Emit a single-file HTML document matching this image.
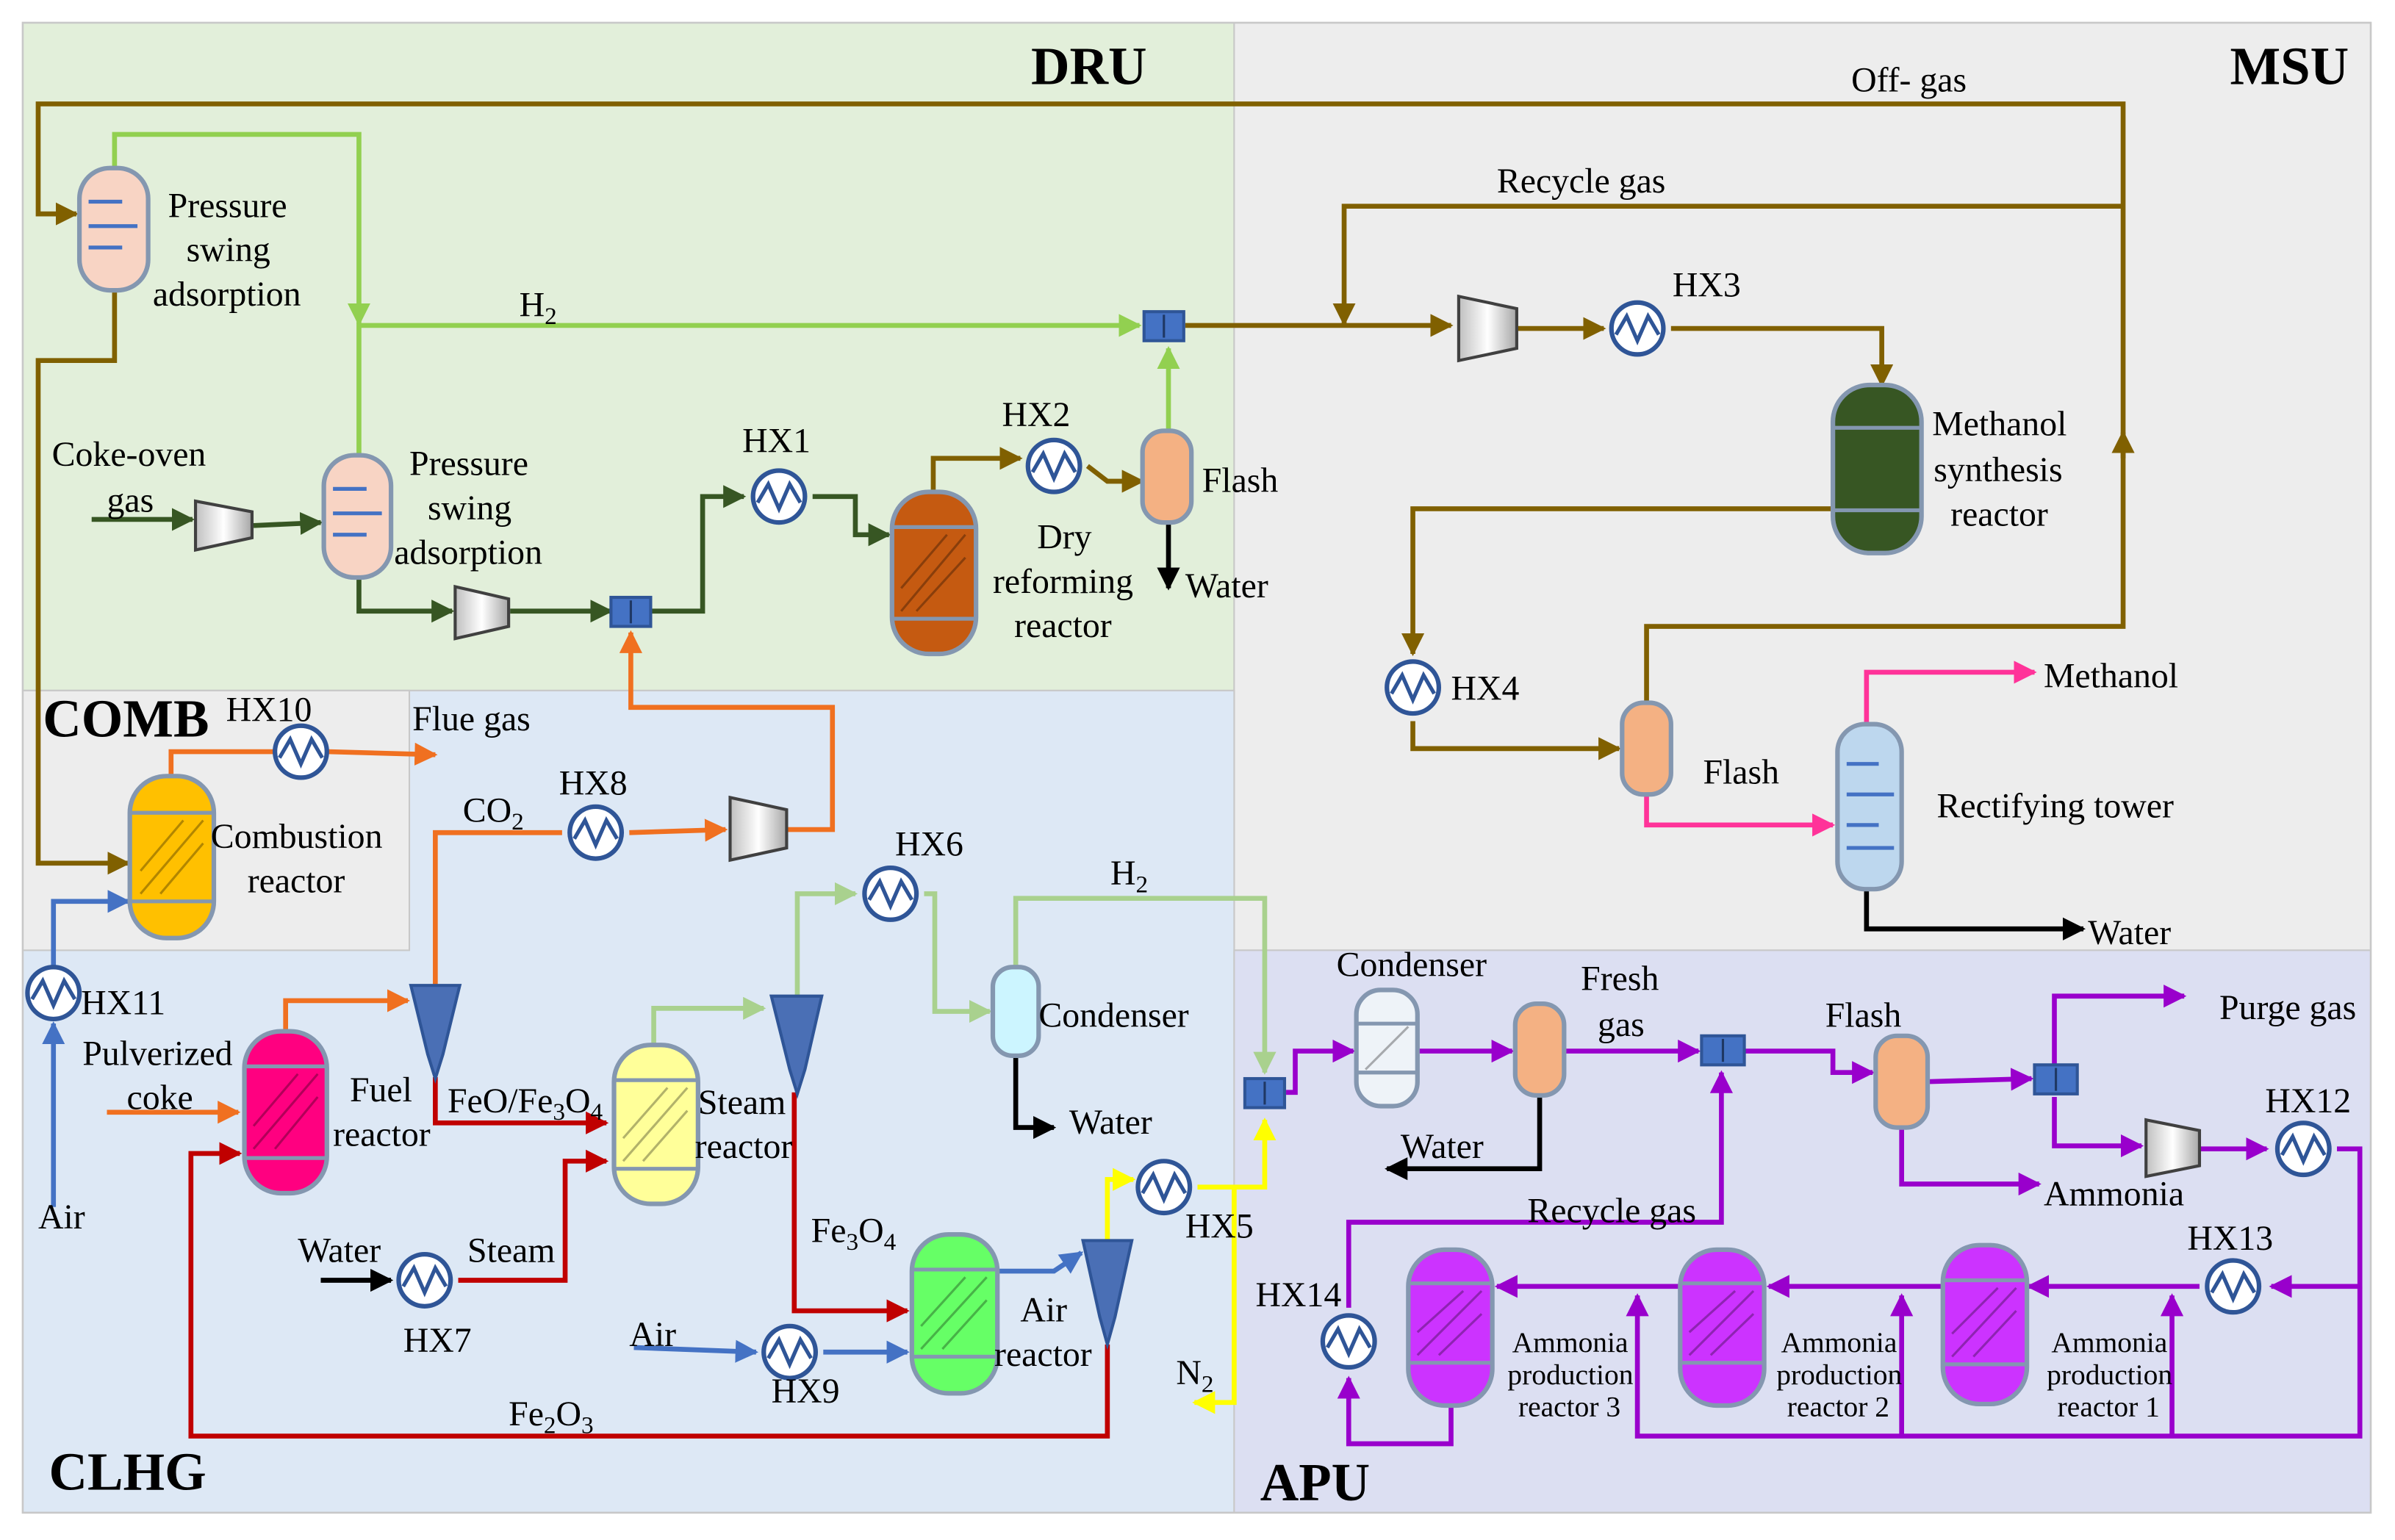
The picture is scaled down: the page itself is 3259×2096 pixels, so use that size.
<!DOCTYPE html>
<html><head><meta charset="utf-8"><style>
html,body{margin:0;padding:0;background:#fff;}
svg{display:block;}
text{font-family:"Liberation Serif",serif;font-size:23px;fill:#000;}
.t{font-weight:bold;font-size:35px;}
.s{font-size:19px;}
</style></head><body>
<svg width="3259" height="2096" viewBox="0 0 1568 1008" preserveAspectRatio="none" xmlns="http://www.w3.org/2000/svg">
<defs>
<marker id="mbr" viewBox="0 0 10 10" refX="9" refY="5" markerWidth="15" markerHeight="15" orient="auto" markerUnits="userSpaceOnUse"><path d="M0,0 L10,5 L0,10 z" fill="#806000"/></marker>
<marker id="mlg" viewBox="0 0 10 10" refX="9" refY="5" markerWidth="15" markerHeight="15" orient="auto" markerUnits="userSpaceOnUse"><path d="M0,0 L10,5 L0,10 z" fill="#92d050"/></marker>
<marker id="mlg2" viewBox="0 0 10 10" refX="9" refY="5" markerWidth="15" markerHeight="15" orient="auto" markerUnits="userSpaceOnUse"><path d="M0,0 L10,5 L0,10 z" fill="#a9d18e"/></marker>
<marker id="mdg" viewBox="0 0 10 10" refX="9" refY="5" markerWidth="15" markerHeight="15" orient="auto" markerUnits="userSpaceOnUse"><path d="M0,0 L10,5 L0,10 z" fill="#375623"/></marker>
<marker id="mor" viewBox="0 0 10 10" refX="9" refY="5" markerWidth="15" markerHeight="15" orient="auto" markerUnits="userSpaceOnUse"><path d="M0,0 L10,5 L0,10 z" fill="#f07020"/></marker>
<marker id="mbl" viewBox="0 0 10 10" refX="9" refY="5" markerWidth="15" markerHeight="15" orient="auto" markerUnits="userSpaceOnUse"><path d="M0,0 L10,5 L0,10 z" fill="#4472c4"/></marker>
<marker id="mrd" viewBox="0 0 10 10" refX="9" refY="5" markerWidth="15" markerHeight="15" orient="auto" markerUnits="userSpaceOnUse"><path d="M0,0 L10,5 L0,10 z" fill="#c00000"/></marker>
<marker id="mye" viewBox="0 0 10 10" refX="9" refY="5" markerWidth="15" markerHeight="15" orient="auto" markerUnits="userSpaceOnUse"><path d="M0,0 L10,5 L0,10 z" fill="#ffff00"/></marker>
<marker id="mpk" viewBox="0 0 10 10" refX="9" refY="5" markerWidth="15" markerHeight="15" orient="auto" markerUnits="userSpaceOnUse"><path d="M0,0 L10,5 L0,10 z" fill="#ff3399"/></marker>
<marker id="mbk" viewBox="0 0 10 10" refX="9" refY="5" markerWidth="15" markerHeight="15" orient="auto" markerUnits="userSpaceOnUse"><path d="M0,0 L10,5 L0,10 z" fill="#000"/></marker>
<marker id="mpu" viewBox="0 0 10 10" refX="9" refY="5" markerWidth="15" markerHeight="15" orient="auto" markerUnits="userSpaceOnUse"><path d="M0,0 L10,5 L0,10 z" fill="#9900cc"/></marker>
<symbol id="hx" viewBox="-20 -20 40 40" overflow="visible"><circle r="17" fill="#fff" stroke="#2f5597" stroke-width="3"/><path d="M-14,4 L-7,-8 L0,8 L7,-8 L14,4" fill="none" stroke="#2f5597" stroke-width="2.5"/></symbol>
<linearGradient id="cg" x1="0" x2="1"><stop offset="0" stop-color="#bfbfbf"/><stop offset=".5" stop-color="#fff"/><stop offset="1" stop-color="#a6a6a6"/></linearGradient>
</defs>
<rect x="15" y="15" width="1537" height="975" fill="#fff" stroke="#c8c8c8" stroke-width="1.5"/>
<rect x="15" y="15" width="793" height="437" fill="#e2efda" stroke="#c8c8c8"/>
<rect x="808" y="15" width="744" height="607" fill="#ededed" stroke="#c8c8c8"/>
<rect x="15" y="452" width="793" height="538" fill="#dde8f5" stroke="#c8c8c8"/>
<rect x="15" y="452" width="253" height="170" fill="#ededed" stroke="#c8c8c8"/>
<rect x="808" y="622" width="744" height="368" fill="#dcdff2" stroke="#c8c8c8"/>
<text class="t" x="675" y="55">DRU</text>
<text class="t" x="1460" y="55">MSU</text>
<text class="t" x="28" y="482">COMB</text>
<text class="t" x="32" y="975">CLHG</text>
<text class="t" x="825" y="982">APU</text>

<g fill="none" stroke-width="3.2">
<g stroke="#806000" marker-end="url(#mbr)">
<polyline points="1078,462 1078,410 1390,410 1390,68 25,68 25,140 50,140"/>
<polyline points="1390,300 1390,283"/>
<polyline points="1390,135 880,135 880,212"/>
<polyline points="75,188 75,236 25,236 25,565 84,565"/>
<polyline points="776,213 950,213"/>
<polyline points="993,215 1050,215"/>
<polyline points="1094,215 1232,215 1232,252"/>
<polyline points="1200,333 925,333 925,428"/>
<polyline points="925,472 925,490 1060,490"/>
<polyline points="611,322 611,300 668,300"/>
<polyline points="712,305 725,315 748,315"/>
</g>
<g stroke="#92d050" marker-end="url(#mlg)">
<polyline points="75,110 75,88 235,88 235,212"/>
<polyline points="235,300 235,213 746,213"/>
<polyline points="765,285 765,228"/>
</g>
<g stroke="#a9d18e" marker-end="url(#mlg2)">
<polyline points="428,685 428,660 500,660"/>
<polyline points="522,655 522,585 560,585"/>
<polyline points="605,585 612,585 612,662 648,662"/>
<polyline points="665,635 665,588 828,588 828,702"/>
</g>
<g stroke="#375623" marker-end="url(#mdg)">
<polyline points="60,340 126,340"/>
<polyline points="166,344 210,342"/>
<polyline points="235,378 235,400 296,400"/>
<polyline points="334,400 400,400"/>
<polyline points="427,400 460,400 460,325 487,325"/>
<polyline points="532,325 560,325 560,350 582,350"/>
</g>
<g stroke="#f07020" marker-end="url(#mor)">
<polyline points="515,543 545,543 545,463 413,463 413,414"/>
<polyline points="285,650 285,545 368,545" marker-end="none"/>
<polyline points="412,545 475,543"/>
<polyline points="187,675 187,655 267,655"/>
<polyline points="112,508 112,492 180,492" marker-end="none"/>
<polyline points="215,492 285,494"/>
<polyline points="70,728 156,728"/>
</g>
<g stroke="#4472c4" marker-end="url(#mbl)">
<polyline points="35,790 35,670"/>
<polyline points="35,632 35,590 84,590"/>
<polyline points="415,882 495,885"/>
<polyline points="539,885 594,885"/>
<polyline points="652,832 690,832 708,820"/>
</g>
<g stroke="#c00000" marker-end="url(#mrd)">
<polyline points="285,705 285,735 397,735"/>
<polyline points="725,880 725,940 125,940 125,755 157,755"/>
<polyline points="300,838 370,838 370,760 397,760"/>
<polyline points="520,715 520,858 594,858"/>
</g>
<g stroke="#ffff00" marker-end="url(#mye)">
<polyline points="725,815 725,772 742,772"/>
<polyline points="784,777 828,777 828,733"/>
<polyline points="808,777 808,918 782,918"/>
</g>
<g stroke="#ff3399" marker-end="url(#mpk)">
<polyline points="1078,520 1078,540 1200,540"/>
<polyline points="1222,475 1222,440 1332,440"/>
</g>
<g stroke="#000" marker-end="url(#mbk)">
<polyline points="765,342 765,385"/>
<polyline points="1222,580 1222,608 1364,608"/>
<polyline points="665,690 665,738 690,738"/>
<polyline points="210,838 256,838"/>
<polyline points="1008,715 1008,765 908,765"/>
</g>
<g stroke="#9900cc" marker-end="url(#mpu)">
<polyline points="842,715 848,715 848,688 886,688"/>
<polyline points="928,688 990,688"/>
<polyline points="1024,688 1112,688"/>
<polyline points="1142,688 1200,688 1200,702 1226,702"/>
<polyline points="1262,708 1330,706"/>
<polyline points="1245,737 1245,775 1335,775"/>
<polyline points="1345,697 1345,652 1430,652"/>
<polyline points="1345,718 1345,750 1402,750"/>
<polyline points="1440,752 1484,752"/>
<polyline points="1530,752 1545,752 1545,842 1487,842"/>
<polyline points="1440,842 1328,842"/>
<polyline points="1272,842 1158,842"/>
<polyline points="1100,842 980,842"/>
<polyline points="950,918 950,945 883,945 883,902"/>
<polyline points="883,856 883,800 1127,800 1127,702"/>
<polyline points="1545,842 1545,940 1072,940 1072,848"/>
<polyline points="1245,940 1245,848"/>
<polyline points="1422,940 1422,848"/>
</g>
</g>

<use href="#hx" x="490" y="305" width="40" height="40"/>
<use href="#hx" x="670" y="285" width="40" height="40"/>
<use href="#hx" x="1052" y="195" width="40" height="40"/>
<use href="#hx" x="905" y="430" width="40" height="40"/>
<use href="#hx" x="177" y="472" width="40" height="40"/>
<use href="#hx" x="370" y="525" width="40" height="40"/>
<use href="#hx" x="563" y="565" width="40" height="40"/>
<use href="#hx" x="15" y="630" width="40" height="40"/>
<use href="#hx" x="258" y="818" width="40" height="40"/>
<use href="#hx" x="497" y="865" width="40" height="40"/>
<use href="#hx" x="742" y="757" width="40" height="40"/>
<use href="#hx" x="1488" y="732" width="40" height="40"/>
<use href="#hx" x="1442" y="822" width="40" height="40"/>
<use href="#hx" x="863" y="858" width="40" height="40"/>

<g fill="url(#cg)" stroke="#404040" stroke-width="2">
<polygon points="128,328 165,335 165,352 128,360"/>
<polygon points="298,384 333,392 333,410 298,418"/>
<polygon points="955,194 993,202 993,228 955,236"/>
<polygon points="478,522 515,530 515,555 478,563"/>
<polygon points="1405,733 1440,740 1440,763 1405,770"/>
</g>

<g fill="#4472c4" stroke="#2f5597" stroke-width="2">
<rect x="749" y="204" width="26" height="19"/>
<rect x="400" y="391" width="26" height="19"/>
<rect x="815" y="706" width="26" height="19"/>
<rect x="1114" y="678" width="28" height="19"/>
<rect x="1332" y="697" width="28" height="19"/>
</g>
<g stroke="#1f3864" stroke-width="1.5"><line x1="762" y1="206" x2="762" y2="221"/><line x1="413" y1="393" x2="413" y2="408"/><line x1="828" y1="708" x2="828" y2="723"/><line x1="1128" y1="680" x2="1128" y2="695"/><line x1="1346" y1="699" x2="1346" y2="714"/></g>

<g fill="#4a6fb5" stroke="#2f5597" stroke-width="2">
<polygon points="269,645 301,645 290,690 285,706 280,690"/>
<polygon points="505,652 538,652 527,700 522,716 517,700"/>
<polygon points="709,812 741,812 730,862 725,880 720,862"/>
</g>

<g stroke="#8497b0" stroke-width="3">
<rect x="52" y="110" width="45" height="80" rx="20" fill="#f8d4c4"/>
<rect x="212" y="298" width="44" height="80" rx="20" fill="#f8d4c4"/>
<rect x="748" y="282" width="32" height="60" rx="14" fill="#f4b183"/>
<rect x="584" y="322" width="55" height="106" rx="24" fill="#c55a11"/>
<rect x="1200" y="252" width="58" height="110" rx="24" fill="#375623"/>
<rect x="1062" y="460" width="32" height="60" rx="14" fill="#f4b183"/>
<rect x="1203" y="474" width="42" height="108" rx="18" fill="#bdd7ee"/>
<rect x="85" y="508" width="55" height="106" rx="24" fill="#ffc000"/>
<rect x="160" y="675" width="54" height="106" rx="24" fill="#ff0080"/>
<rect x="402" y="684" width="55" height="104" rx="24" fill="#ffff99"/>
<rect x="650" y="633" width="30" height="58" rx="13" fill="#ccf5ff"/>
<rect x="597" y="808" width="56" height="104" rx="24" fill="#66ff66"/>
<rect x="888" y="648" width="40" height="76" rx="16" fill="#eef3f8"/>
<rect x="992" y="657" width="32" height="60" rx="14" fill="#f4b183"/>
<rect x="1228" y="678" width="34" height="60" rx="14" fill="#f4b183"/>
<rect x="922" y="818" width="55" height="102" rx="24" fill="#cc33ff"/>
<rect x="1100" y="818" width="55" height="102" rx="24" fill="#cc33ff"/>
<rect x="1272" y="815" width="55" height="104" rx="24" fill="#cc33ff"/>
</g>
<g stroke="#4472c4" stroke-width="2.5">
<line x1="58" y1="132" x2="80" y2="132"/><line x1="58" y1="148" x2="90" y2="148"/><line x1="58" y1="162" x2="80" y2="162"/>
<line x1="218" y1="320" x2="240" y2="320"/><line x1="218" y1="336" x2="250" y2="336"/><line x1="218" y1="350" x2="240" y2="350"/>
<line x1="1209" y1="500" x2="1230" y2="500"/><line x1="1209" y1="520" x2="1240" y2="520"/><line x1="1209" y1="540" x2="1230" y2="540"/><line x1="1209" y1="555" x2="1240" y2="555"/>
</g>
<g stroke="#8497b0" stroke-width="2.5">
<line x1="584" y1="345" x2="639" y2="345"/><line x1="584" y1="405" x2="639" y2="405"/>
<line x1="1200" y1="280" x2="1258" y2="280"/><line x1="1200" y1="334" x2="1258" y2="334"/>
<line x1="85" y1="532" x2="140" y2="532"/><line x1="85" y1="590" x2="140" y2="590"/>
<line x1="160" y1="698" x2="214" y2="698"/><line x1="160" y1="758" x2="214" y2="758"/>
<line x1="402" y1="707" x2="457" y2="707"/><line x1="402" y1="765" x2="457" y2="765"/>
<line x1="597" y1="831" x2="653" y2="831"/><line x1="597" y1="888" x2="653" y2="888"/>
<line x1="888" y1="670" x2="928" y2="670"/><line x1="888" y1="702" x2="928" y2="702"/>
<line x1="922" y1="840" x2="977" y2="840"/><line x1="922" y1="892" x2="977" y2="892"/>
<line x1="1100" y1="840" x2="1155" y2="840"/><line x1="1100" y1="892" x2="1155" y2="892"/>
<line x1="1272" y1="838" x2="1327" y2="838"/><line x1="1272" y1="893" x2="1327" y2="893"/>
</g>
<g stroke="#000" stroke-opacity=".3" stroke-width="1.5">
<path d="M590,400 L632,350 M590,385 L620,350 M600,400 L632,365"/>
<path d="M92,585 L133,537 M92,570 L120,537 M105,585 L133,552"/>
<path d="M166,752 L208,703 M166,737 L195,703 M180,752 L208,718"/>
<path d="M408,760 L450,712 M408,745 L437,712 M421,760 L450,727"/>
<path d="M603,883 L646,836 M603,868 L632,836 M617,883 L646,851"/>
<path d="M894,700 L922,672"/>
<path d="M928,887 L970,845 M928,872 L958,845 M942,887 L970,860"/>
<path d="M1106,887 L1148,845 M1106,872 L1136,845 M1120,887 L1148,860"/>
<path d="M1278,888 L1320,843 M1278,873 L1308,843 M1292,888 L1320,858"/>
</g>

<text x="1212" y="60">Off- gas</text>
<text x="980" y="126">Recycle  gas</text>
<text x="1095" y="194">HX3</text>
<text x="1265" y="285">Methanol</text>
<text x="1266" y="315">synthesis</text>
<text x="1277" y="344">reactor</text>
<text x="950" y="458">HX4</text>
<text x="1115" y="513">Flash</text>
<text x="1338" y="450">Methanol</text>
<text x="1268" y="535">Rectifying tower</text>
<text x="1367" y="618">Water</text>
<text x="110" y="142">Pressure</text>
<text x="122" y="171">swing</text>
<text x="100" y="200">adsorption</text>
<text x="340" y="207">H<tspan font-size="16" dy="5">2</tspan></text>
<text x="34" y="305">Coke-oven</text>
<text x="70" y="335">gas</text>
<text x="268" y="311">Pressure</text>
<text x="280" y="340">swing</text>
<text x="258" y="369">adsorption</text>
<text x="486" y="296">HX1</text>
<text x="656" y="279">HX2</text>
<text x="787" y="322">Flash</text>
<text x="679" y="359">Dry</text>
<text x="650" y="388">reforming</text>
<text x="664" y="417">reactor</text>
<text x="776" y="391">Water</text>
<text x="148" y="472">HX10</text>
<text x="270" y="478">Flue gas</text>
<text x="303" y="538">CO<tspan font-size="16" dy="5">2</tspan></text>
<text x="366" y="520">HX8</text>
<text x="138" y="555">Combustion</text>
<text x="162" y="584">reactor</text>
<text x="586" y="560">HX6</text>
<text x="727" y="579">H<tspan font-size="16" dy="5">2</tspan></text>
<text x="680" y="672">Condenser</text>
<text x="53" y="664">HX11</text>
<text x="54" y="697">Pulverized</text>
<text x="83" y="726">coke</text>
<text x="229" y="721">Fuel</text>
<text x="218" y="750">reactor</text>
<text x="293" y="728">FeO/Fe<tspan font-size="16" dy="5">3</tspan><tspan dy="-5">O</tspan><tspan font-size="16" dy="5">4</tspan></text>
<text x="457" y="729">Steam</text>
<text x="455" y="758">reactor</text>
<text x="700" y="742">Water</text>
<text x="25" y="804">Air</text>
<text x="195" y="826">Water</text>
<text x="306" y="826">Steam</text>
<text x="264" y="885">HX7</text>
<text x="531" y="813">Fe<tspan font-size="16" dy="5">3</tspan><tspan dy="-5">O</tspan><tspan font-size="16" dy="5">4</tspan></text>
<text x="668" y="865">Air</text>
<text x="651" y="894">reactor</text>
<text x="776" y="810">HX5</text>
<text x="412" y="881">Air</text>
<text x="505" y="918">HX9</text>
<text x="333" y="933">Fe<tspan font-size="16" dy="5">2</tspan><tspan dy="-5">O</tspan><tspan font-size="16" dy="5">3</tspan></text>
<text x="770" y="906">N<tspan font-size="16" dy="5">2</tspan></text>
<text x="875" y="639">Condenser</text>
<text x="1035" y="648">Fresh</text>
<text x="1046" y="678">gas</text>
<text x="1195" y="672">Flash</text>
<text x="1453" y="667">Purge gas</text>
<text x="1483" y="728">HX12</text>
<text x="917" y="758">Water</text>
<text x="1338" y="789">Ammonia</text>
<text x="1000" y="800">Recycle gas</text>
<text x="1432" y="818">HX13</text>
<text x="822" y="855">HX14</text>
<text class="s" x="990" y="885">Ammonia</text>
<text class="s" x="987" y="906">production</text>
<text class="s" x="994" y="927">reactor 3</text>
<text class="s" x="1166" y="885">Ammonia</text>
<text class="s" x="1163" y="906">production</text>
<text class="s" x="1170" y="927">reactor 2</text>
<text class="s" x="1343" y="885">Ammonia</text>
<text class="s" x="1340" y="906">production</text>
<text class="s" x="1347" y="927">reactor 1</text>
</svg>
</body></html>
